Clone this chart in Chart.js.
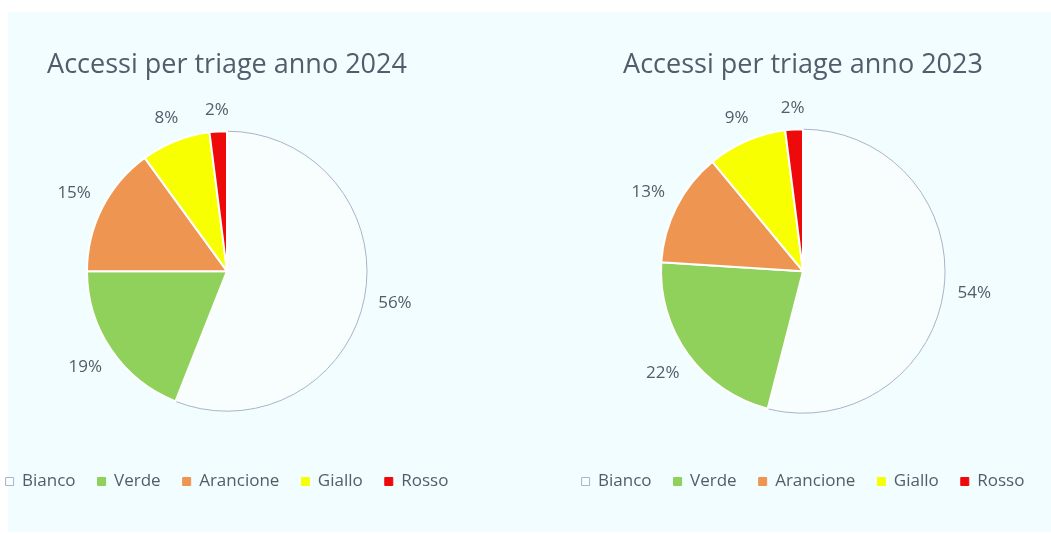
<!DOCTYPE html>
<html>
<head>
<meta charset="utf-8">
<script src="https://cdn.jsdelivr.net/npm/chart.js@4"></script>
<style>
  html, body { margin: 0; padding: 0; background: #fff; }
  body { width: 1051px; height: 534px; position: relative; overflow: hidden; }
  .panel { position: absolute; left: 8px; top: 12px; width: 1043px; height: 520px; background: #F1FDFE; }
  .box { position: absolute; top: 0; height: 510px; }
  #box1 { left: -40px; width: 518px; }
  #box2 { left: 535px; width: 520px; }
</style>
</head>
<body>
<div class="panel">
  <div class="box" id="box1"><canvas id="pie2024"></canvas></div>
  <div class="box" id="box2"><canvas id="pie2023"></canvas></div>
</div>
<script>
const categories = ['Bianco', 'Verde', 'Arancione', 'Giallo', 'Rosso'];
const values2024 = [56, 19, 15, 8, 2];
const values2023 = [54, 22, 13, 9, 2];
const sliceColors = ['#F8FEFE', '#8FD15B', '#EE9651', '#F7FF00', '#EE0A0A'];
const borderColors = ['#A9B3C9', '#FFFFFF', '#FFFFFF', '#FFFFFF', '#FFFFFF'];

const textColor = '#535C6A';
const fontFamily = '"Open Sans", "Noto Sans", sans-serif';

// etichette percentuali fuori dalla torta
const outsideLabels = {
  id: 'outsideLabels',
  afterDatasetsDraw(chart) {
    const ctx = chart.ctx;
    const meta = chart.getDatasetMeta(0);
    const data = chart.data.datasets[0].data;
    const total = data.reduce((a, b) => a + b, 0);
    ctx.save();
    ctx.font = '17px ' + fontFamily;
    ctx.fillStyle = textColor;
    ctx.textAlign = 'center';
    ctx.textBaseline = 'middle';
    meta.data.forEach((arc, i) => {
      const p = arc.getProps(['x', 'y', 'startAngle', 'endAngle', 'outerRadius'], true);
      const mid = (p.startAngle + p.endAngle) / 2;
      const txt = Math.round(data[i] / total * 100) + '%';
      const hw = ctx.measureText(txt).width / 2;
      const dist = p.outerRadius + 13 + Math.abs(Math.cos(mid)) * hw + Math.abs(Math.sin(mid)) * 8;
      ctx.fillText(txt, p.x + Math.cos(mid) * dist, p.y + Math.sin(mid) * dist);
    });
    ctx.restore();
  }
};

function makePie(id, year, values, radius) {
  new Chart(document.getElementById(id), {
    type: 'pie',
    data: {
      labels: categories,
      datasets: [{
        data: values,
        radius: radius,
        backgroundColor: sliceColors,
        borderColor: borderColors,
        borderWidth: [1, 2, 2, 2, 2],
        hoverOffset: 0
      }]
    },
    options: {
      responsive: true,
      maintainAspectRatio: false,
      animation: false,
      layout: { padding: { bottom: 22 } },
      plugins: {
        title: {
          display: true,
          text: 'Accessi per triage anno ' + year,
          color: textColor,
          font: { family: fontFamily, size: 27, weight: 'normal' },
          padding: { top: 37, bottom: 10 }
        },
        legend: {
          position: 'bottom',
          labels: {
            color: textColor,
            font: { family: fontFamily, size: 17 },
            boxWidth: 8,
            boxHeight: 8,
            padding: 22,
            generateLabels(chart) {
              const items = Chart.overrides.pie.plugins.legend.labels.generateLabels(chart);
              items.forEach((it, i) => {
                it.strokeStyle = i === 0 ? '#A9B3C9' : sliceColors[i];
                it.lineWidth = 1;
              });
              return items;
            }
          }
        },
        tooltip: { enabled: false }
      }
    },
    plugins: [outsideLabels]
  });
}

makePie('pie2024', 2024, values2024, 140);
makePie('pie2023', 2023, values2023, 142);
</script>
</body>
</html>
